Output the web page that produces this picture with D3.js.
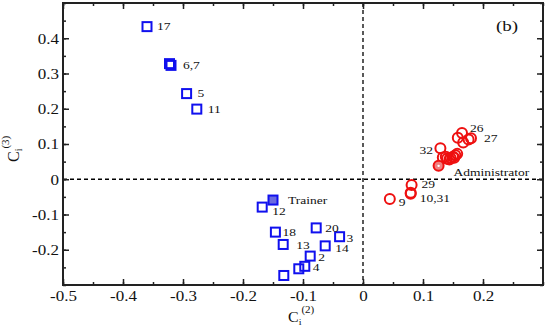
<!DOCTYPE html>
<html><head><meta charset="utf-8">
<script src="https://cdn.jsdelivr.net/npm/d3@7"></script>
<style>body{margin:0;background:#fff}svg{display:block}svg text{font-family:"Liberation Serif","Times New Roman",serif;fill:#111}</style>
</head><body><svg id="c" width="545" height="327"></svg>
<script>
const xTicks = [-0.5,-0.4,-0.3,-0.2,-0.1,0,0.1,0.2];
const yTicks = [-0.2,-0.1,0,0.1,0.2,0.3,0.4];
const xLabels = ["-0.5","-0.4","-0.3","-0.2","-0.1","0","0.1","0.2"];
const yLabels = ["-0.2","-0.1","0","0.1","0.2","0.3","0.4"];

// blue group (squares)
const blueX = [-0.360,-0.3225,-0.320,-0.294,-0.277,-0.168,-0.146,-0.133,-0.078,-0.039,-0.063,-0.088,-0.097,-0.107,-0.132];
const blueY = [0.433,0.328,0.323,0.243,0.199,-0.079,-0.150,-0.185,-0.138,-0.163,-0.189,-0.218,-0.247,-0.254,-0.273];
const blueLabels = ["17","","6,7","5","11","12","18","13","20","3","14","2","4","",""];
const trainer = [-0.150,-0.059];

// red group (circles)
const redX = [0.165,0.158,0.180,0.176,0.167,0.129,0.133,0.140,0.146,0.150,0.154,0.157,0.152,0.144,0.138,0.081,0.0795,0.0795,0.0447];
const redY = [0.131,0.118,0.116,0.113,0.104,0.088,0.062,0.058,0.060,0.064,0.068,0.072,0.061,0.056,0.064,-0.016,-0.038,-0.041,-0.056];
const redLabels = ["26","","27","","","32","","","","","","","","","","29","10,31","","9"];
const admin = [0.126,0.038];

const L=63, R=543, T=3, B=285, SQ=0.82;
const svg = d3.select("#c");
const x = d3.scaleLinear().domain([-0.5,0.3]).range([L,R]);
const y = d3.scaleLinear().domain([-0.3,0.5]).range([B,T]);

const blueOff = {"17":[10,0],"6,7":[12,0],"5":[11,0],"11":[11,0],"12":[10,4],"18":[7,0],"13":[13,1],"20":[9,0],"3":[7,1],"14":[10,2],"2":[8,1],"4":[8,1]};
const redOff = {"26":[8,-5],"27":[13,0],"32":[-21,2],"29":[10,-1],"10,31":[9,5],"9":[9,3]};

// dashed zero lines
svg.append("line").attr("x1",x(0)).attr("x2",x(0)).attr("y1",T).attr("y2",B)
  .attr("stroke","#000").attr("stroke-width",1.3).attr("stroke-dasharray","4,3");
svg.append("line").attr("x1",L).attr("x2",R).attr("y1",y(0)).attr("y2",y(0))
  .attr("stroke","#000").attr("stroke-width",1.3).attr("stroke-dasharray","4,3");

const minorX = d3.range(-0.5,0.3001,0.05);
const minorY = d3.range(-0.3,0.5001,0.05);
function ax(g){g.attr("font-family",null).attr("font-size",null).select(".domain").remove();g.selectAll("line").attr("stroke","#222").attr("stroke-width",1.5);}
svg.append("g").attr("transform",`translate(0,${B})`).call(d3.axisBottom(x).tickValues(minorX).tickSize(-3).tickFormat("")).call(ax);
svg.append("g").attr("transform",`translate(0,${B})`).call(d3.axisBottom(x).tickValues(xTicks).tickSize(-6).tickFormat((d,i)=>xLabels[i])).call(ax)
  .selectAll("text").style("font-size","17px").attr("fill","#111")
  .attr("y",0).attr("dy","0.35em").attr("transform",`translate(0,11.5) scale(1,${SQ})`);
svg.append("g").attr("transform",`translate(0,${T})`).call(d3.axisTop(x).tickValues(minorX).tickSize(-3).tickFormat("")).call(ax);
svg.append("g").attr("transform",`translate(0,${T})`).call(d3.axisTop(x).tickValues(xTicks).tickSize(-6).tickFormat("")).call(ax);
svg.append("g").attr("transform",`translate(${L},0)`).call(d3.axisLeft(y).tickValues(minorY).tickSize(-3).tickFormat("")).call(ax);
svg.append("g").attr("transform",`translate(${L},0)`).call(d3.axisLeft(y).tickValues(yTicks).tickSize(-6).tickFormat((d,i)=>yLabels[i]).tickPadding(4)).call(ax)
  .selectAll("text").style("font-size","17px").attr("fill","#111")
  .attr("dy","0.35em").attr("transform",`scale(1,${SQ})`);
svg.append("g").attr("transform",`translate(${R},0)`).call(d3.axisRight(y).tickValues(minorY).tickSize(-3).tickFormat("")).call(ax);
svg.append("g").attr("transform",`translate(${R},0)`).call(d3.axisRight(y).tickValues(yTicks).tickSize(-6).tickFormat("")).call(ax);
svg.append("rect").attr("x",L).attr("y",T).attr("width",R-L).attr("height",B-T)
  .attr("fill","none").attr("stroke","#222").attr("stroke-width",2);

// blue squares
const s=9;
const blue = blueX.map((v,i)=>({x:v,y:blueY[i],l:blueLabels[i]}));
svg.append("g").selectAll("rect").data(blue).join("rect")
  .attr("x",d=>x(d.x)-s/2).attr("y",d=>y(d.y)-s/2).attr("width",s).attr("height",s)
  .attr("fill","none").attr("stroke","#1010ee").attr("stroke-width",2);
svg.append("rect").attr("x",x(trainer[0])-s/2).attr("y",y(trainer[1])-s/2).attr("width",s).attr("height",s)
  .attr("fill","#6a6ae0").attr("stroke","#1010ee").attr("stroke-width",2);

// red circles
const red = redX.map((v,i)=>({x:v,y:redY[i],l:redLabels[i]}));
svg.append("g").selectAll("circle").data(red).join("circle")
  .attr("cx",d=>x(d.x)).attr("cy",d=>y(d.y)).attr("r",5)
  .attr("fill","none").attr("stroke","#ee1010").attr("stroke-width",2);
svg.append("circle").attr("cx",x(admin[0])).attr("cy",y(admin[1])).attr("r",5)
  .attr("fill","#f08080").attr("stroke","#ee1010").attr("stroke-width",2);
svg.append("circle").attr("cx",x(admin[0])).attr("cy",y(admin[1])).attr("r",1.2).attr("fill","#fff");

// point labels (slightly squashed like the reference)
const lab = svg.append("g").style("font-size","13.5px");
function put(px,py,t){lab.append("text").attr("transform",`translate(${px},${py}) scale(1,${SQ})`).attr("dy","0.35em").text(t);}
blue.filter(d=>d.l).forEach(d=>{const o=blueOff[d.l]; put(x(d.x)+o[0], y(d.y)+o[1], d.l);});
red.filter(d=>d.l).forEach(d=>{const o=redOff[d.l]; put(x(d.x)+o[0], y(d.y)+o[1], d.l);});
put(x(trainer[0])+15, y(trainer[1]), "Trainer");
put(x(admin[0])+15, y(admin[1])+6, "Administrator");

svg.append("text").attr("transform",`translate(507,26) scale(1,${SQ})`).attr("dy","0.35em").attr("text-anchor","middle").style("font-size","19px").text("(b)");

// axis titles
const xt = svg.append("text").attr("transform",`translate(288,322) scale(1,0.9)`).style("font-size","16px");
xt.append("tspan").text("C");
xt.append("tspan").attr("dy",3).style("font-size","10px").text("i");
xt.append("tspan").attr("dy",-13).style("font-size","11px").text("(2)");
const yt = svg.append("text").attr("transform","translate(19,162) rotate(-90)").style("font-size","16px");
yt.append("tspan").text("C");
yt.append("tspan").attr("dy",3).style("font-size","10px").text("i");
yt.append("tspan").attr("dy",-13).style("font-size","11px").text("(3)");
</script></body></html>
